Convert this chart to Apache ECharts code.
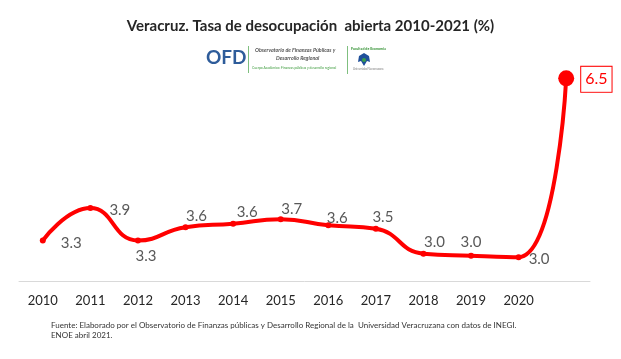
<!DOCTYPE html>
<html>
<head>
<meta charset="utf-8">
<script src="https://cdn.jsdelivr.net/npm/echarts@6/dist/echarts.min.js"></script>
<style>
html,body{margin:0;padding:0;background:#fff;}
#c{width:621px;height:359px;}
</style>
</head>
<body>
<div id="c"></div>
<script>
// Data
var years = ['2010','2011','2012','2013','2014','2015','2016','2017','2018','2019','2020','2021'];
var tickLabels = ['2010','2011','2012','2013','2014','2015','2016','2017','2018','2019','2020',''];
var rate = [3.3, 3.94, 3.3, 3.56, 3.63, 3.72, 3.6, 3.53, 3.04, 3.0, 2.97, 6.5];

// label placement per point (style only)
var labelPos = [
  {position:'right', offset:[10,3]},
  {position:'right', offset:[11,2]},
  {position:'bottom', offset:[8,0]},
  {position:'top', offset:[11,4]},
  {position:'top', offset:[14,4]},
  {position:'top', offset:[11,5]},
  {position:'top', offset:[9,8]},
  {position:'top', offset:[7,4]},
  {position:'top', offset:[11,4]},
  {position:'top', offset:[0,2]},
  {position:'right', offset:[2,2]},
  null
];

var FONT = 'Lato, "Open Sans", sans-serif';
var seriesData = rate.map(function(v, i){
  if (i === rate.length - 1) {
    return {
      value: v,
      symbolSize: 16,
      label: {
        show: true, position: 'right', offset: [2, 1],
        color: '#ff0000', fontSize: 16, fontFamily: FONT,
        borderColor: '#ff0000', borderWidth: 1, padding: [5, 4, 4, 4],
        backgroundColor: '#fff'
      }
    };
  }
  var lp = labelPos[i];
  return {
    value: v,
    label: {show: true, position: lp.position, offset: lp.offset}
  };
});

var chart = echarts.init(document.getElementById('c'), null, {renderer: 'canvas'});
chart.setOption({
  backgroundColor: '#fff',
  animation: false,
  title: {
    text: 'Veracruz. Tasa de desocupación  abierta 2010-2021 (%)',
    left: 'center', top: 14,
    textStyle: {fontFamily: FONT, fontSize: 15, fontWeight: 'bold', color: '#262626'}
  },
  grid: {left: 19, right: 31, top: 53, bottom: 78, containLabel: false},
  xAxis: {
    type: 'category',
    data: years,
    boundaryGap: true,
    axisLine: {show: true, lineStyle: {color: '#d9d9d9', width: 1}},
    axisTick: {show: false},
    axisLabel: {
      color: '#262626', fontSize: 13, fontFamily: FONT, margin: 13,
      formatter: function(v, i){ return tickLabels[i]; }
    },
    splitLine: {show: false}
  },
  yAxis: {
    type: 'value', min: 2.5, max: 7,
    show: false,
    splitLine: {show: false}
  },
  graphic: [
    // logo block
    {type:'text', x: 206, y: 48, style:{text:'OFD', fill:'#2e5c9a', font:'bold 19px ' + FONT}},
    {type:'rect', shape:{x:248, y:46, width:1, height:27}, style:{fill:'#7fbf7f'}},
    {type:'text', x: 255, y: 48, style:{text:'Observatorio de Finanzas Públicas y', fill:'#555', font:'italic bold 5.3px ' + FONT}},
    {type:'text', x: 276, y: 56, style:{text:'Desarrollo Regional', fill:'#555', font:'italic bold 5.3px ' + FONT}},
    {type:'text', x: 252, y: 66.5, style:{text:'Cuerpo Académico: Finanzas públicas y desarrollo regional', fill:'#3a9a3a', font:'3.3px ' + FONT}},
    {type:'rect', shape:{x:347, y:46, width:1, height:28}, style:{fill:'#7fbf7f'}},
    {type:'text', x: 351, y: 47, style:{text:'Facultad de Economía', fill:'#2f8f2f', font:'bold 3.6px ' + FONT}},
    {type:'polygon', shape:{points:[[364,53],[359,56],[358,62],[361,61],[364,66],[367,61],[370,62],[369,56]]}, style:{fill:'#1f4f9a'}},
    {type:'circle', shape:{cx:364, cy:60, r:2}, style:{fill:'#3aa04a'}},
    {type:'text', x: 353, y: 68, style:{text:'Universidad Veracruzana', fill:'#777', font:'2.8px ' + FONT}},
    // footer
    {type:'text', x: 51, y: 321, style:{text:'Fuente: Elaborado por el Observatorio de Finanzas públicas y Desarrollo Regional de la  Universidad Veracruzana con datos de INEGI.', fill:'#333', font:'8px ' + FONT}},
    {type:'text', x: 51, y: 331, style:{text:'ENOE abril 2021.', fill:'#333', font:'8px ' + FONT}}
  ],
  series: [{
    type: 'line',
    data: seriesData,
    smooth: 0.5,
    symbol: 'circle',
    symbolSize: 6,
    itemStyle: {color: '#ff0000'},
    lineStyle: {color: '#ff0000', width: 4},
    label: {
      show: true, color: '#595959', fontSize: 15, fontFamily: FONT,
      formatter: function(p){ return Number(p.value).toFixed(1); }
    }
  }]
});
</script>
</body>
</html>
